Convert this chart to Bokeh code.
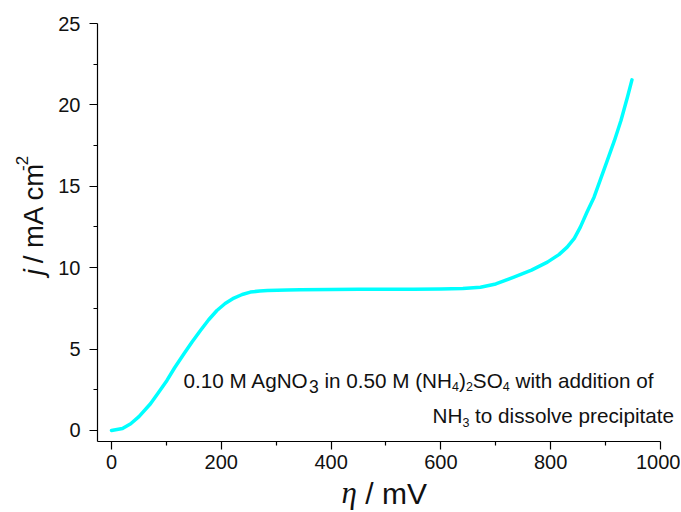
import math
from bokeh.plotting import figure
from bokeh.models import Range1d, Label, FixedTicker
from bokeh.layouts import column, row
from bokeh.embed import file_html
from bokeh.resources import INLINE

# ---- data ----
eta_mV = [0, 20, 35, 50, 71, 85, 101, 115, 132, 147, 162, 177, 192, 207, 223, 238,
          253, 270, 284, 320, 344, 400, 450, 500, 550, 600, 640, 672, 700, 733, 765,
          794, 815, 830, 843, 854, 866, 879, 891, 903, 916, 928, 940, 948]
j_mA_cm2 = [0.0, 0.12, 0.41, 0.85, 1.64, 2.3, 3.07, 3.85, 4.71, 5.45, 6.14, 6.8, 7.37,
            7.8, 8.13, 8.35, 8.5, 8.57, 8.6, 8.62, 8.64, 8.66, 8.67, 8.68, 8.68, 8.69,
            8.72, 8.8, 9.0, 9.42, 9.85, 10.34, 10.8, 11.26, 11.8, 12.49, 13.4, 14.33,
            15.45, 16.58, 17.8, 19.04, 20.5, 21.54]
x_ticks = [0, 200, 400, 600, 800, 1000]
y_ticks = [0, 5, 10, 15, 20, 25]
x_minor = [100, 300, 500, 700, 900]
y_minor = [2.5, 7.5, 12.5, 17.5, 22.5]

FONT = "Liberation Sans"
TXT = "#111111"
XMIN, XMAX = -25.5, 1000      # axis extent
Y0, Y1 = -0.68, 25

TOTAL_W = 680
YW = 55            # width of the strip holding the y title
MAIN_H = 480
XH = 32            # height of the strip holding the x title
MW = TOTAL_W - YW
# frame in page pixels (the frame runs to the right edge so the note is not cut;
# the x axis itself stops at XMAX, page x = 660)
FL, AXR, FT, FB = 97, 660, 23, 441
FR = TOTAL_W
X0 = XMIN
X1 = XMIN + (FR - FL) / (AXR - FL) * (XMAX - XMIN)

p = figure(width=MW, height=MAIN_H, output_backend="svg", toolbar_location=None,
           x_range=Range1d(X0, X1), y_range=Range1d(Y0, Y1),
           min_border_left=FL - YW, min_border_right=0,
           min_border_top=FT, min_border_bottom=MAIN_H - FB)
p.outline_line_color = None
p.grid.visible = False

p.line(eta_mV, j_mA_cm2, line_color="#00FFFF", line_width=3.5, line_cap="round",
       line_join="round")

for ax, maj, mnr in ((p.xaxis[0], x_ticks, x_minor), (p.yaxis[0], y_ticks, y_minor)):
    ax.ticker = FixedTicker(ticks=maj, minor_ticks=mnr)
    ax.axis_line_color = "black"
    ax.axis_line_width = 1.2
    ax.major_tick_line_color = "black"
    ax.minor_tick_line_color = "black"
    ax.major_tick_line_width = 1.2
    ax.minor_tick_line_width = 1.2
    ax.major_tick_in = 0
    ax.major_tick_out = 8
    ax.minor_tick_in = 0
    ax.minor_tick_out = 4
    ax.major_label_text_font = FONT
    ax.major_label_text_font_size = "20px"
    ax.major_label_text_color = TXT
    ax.axis_label = None
p.xaxis.bounds = (XMIN, XMAX)
p.xaxis.major_label_standoff = 5
p.yaxis.major_label_standoff = 9


def text_strip(w, h):
    f = figure(width=w, height=h, output_backend="svg", toolbar_location=None,
               x_range=Range1d(0, w), y_range=Range1d(0, h),
               min_border=0, x_axis_type=None, y_axis_type=None)
    f.outline_line_color = None
    f.grid.visible = False
    return f


ADV = {'.': 278, ' ': 278, 'M': 833, 'A': 667, 'g': 556, 'N': 722, 'O': 778, 'i': 222,
       'n': 556, '(': 333, ')': 333, 'H': 722, 'S': 667, 'w': 722, 't': 278, 'h': 556,
       'a': 556, 'd': 556, 'o': 556, 'f': 278, 'l': 222, 'v': 500, 'e': 556, 'p': 556,
       'r': 333, 'c': 500, 's': 500, '/': 278, 'm': 833, 'V': 667, '-': 333, 'j': 222,
       'η': 500}
K = 0.35   # label anchor sits this many ems above the baseline


def adv(s, size):
    return sum(ADV.get(c, 556) for c in s) * size / 1000.0


def run(fig, pieces, x, y, to_data, angle=0.0):
    """Write text pieces one after another from a baseline point.
    pieces: (text, size, shift_px, style, font, gap_px); shift is downward (sub)
    for horizontal text, toward the left for text rotated by +90 degrees; gap is
    extra room left before the piece."""
    for text, size, shift, style, font, gap in pieces:
        if angle == 0.0:
            x += gap
        else:
            y -= gap
        lead = len(text) - len(text.lstrip(" "))
        off = adv(" " * lead, size)
        if angle == 0.0:
            lx, ly = x + off, y + shift - K * size
        else:
            lx, ly = x + shift - K * size, y - off
        dxv, dyv = to_data(lx, ly)
        fig.add_layout(Label(x=dxv, y=dyv, text=text.strip(" "), angle=angle,
                             text_font=font, text_font_size=f"{size}px",
                             text_font_style=style, text_color=TXT,
                             text_align="left", text_baseline="alphabetic"))
        if angle == 0.0:
            x += adv(text, size)
        else:
            y -= adv(text, size)


def main_to_data(px, py):
    return (X0 + (px - FL) / (FR - FL) * (X1 - X0),
            Y0 + (FB - py) / (FB - FT) * (Y1 - Y0))


N = "normal"
A = 20.7   # annotation font size
S = 12.5   # subscript size
# annotation, line 1
run(p, [("0.10 M AgNO", A, 0, N, FONT, 0), ("3", 17.5, 5, N, FONT, 0),
        (" in 0.50 M (NH", A, 0, N, FONT, 0), ("4", S, 3, N, FONT, 0),
        (")", A, 0, N, FONT, 0), ("2", S, 3, N, FONT, 0), ("SO", A, 0, N, FONT, 0),
        ("4", S, 3, N, FONT, 0), (" with addition of", A, 0, N, FONT, 0)],
    183, 387, main_to_data)
# annotation, line 2
run(p, [("NH", A, 0, N, FONT, 0), ("3", S, 4, N, FONT, 0),
        (" to dissolve precipitate", A, 0, N, FONT, 0)], 432, 422, main_to_data)

# y title strip (left of the chart)
yfig = text_strip(YW, MAIN_H)
run(yfig, [("j", 27.5, 0, "italic", FONT, 0), (" / mA cm", 27.5, 0, N, FONT, 0),
           ("-2", 17, -16, N, FONT, 5)],
    43, 289, lambda px, py: (px, MAIN_H - py), angle=math.pi / 2)

# x title strip (below the chart)
xfig = text_strip(TOTAL_W, XH)
run(xfig, [("η", 31, 0, "italic", "Liberation Serif", 0),
           (" / mV", 30, 0, N, FONT, 0)],
    341, 503, lambda px, py: (px, MAIN_H + XH - py))

layout = column(row(yfig, p), xfig)
open("out.html", "w").write(file_html(layout, INLINE))
